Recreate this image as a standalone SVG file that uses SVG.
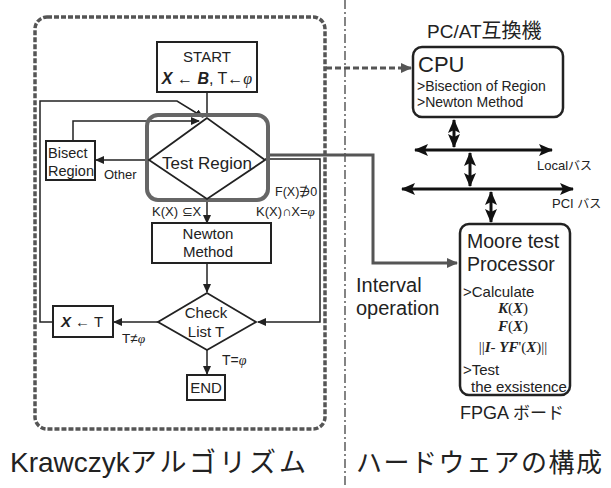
<svg xmlns="http://www.w3.org/2000/svg" width="611" height="488" viewBox="0 0 611 488">
<style>
text{font-family:"Liberation Sans",Arial,sans-serif;fill:#222}
.box{fill:#fff;stroke:#222;stroke-width:2}
.ln{fill:none;stroke:#222;stroke-width:1.5}
.bus{fill:none;stroke:#111;stroke-width:3}
.m{font-family:"Liberation Serif","Times New Roman",serif;font-weight:bold;font-style:italic}
.phi{font-family:"Liberation Serif","Times New Roman",serif;font-style:italic}
.jp{font-family:"Noto Sans CJK JP",sans-serif}
</style>
<defs>
<marker id="a" markerUnits="userSpaceOnUse" markerWidth="9" markerHeight="8" refX="8" refY="4" orient="auto"><path d="M0,0 L9,4 L0,8 z" fill="#222"/></marker>
<marker id="g" markerUnits="userSpaceOnUse" markerWidth="11" markerHeight="10" refX="10" refY="5" orient="auto"><path d="M0,0 L11,5 L0,10 z" fill="#555"/></marker>
<marker id="b" markerUnits="userSpaceOnUse" markerWidth="14" markerHeight="12" refX="13" refY="6" orient="auto-start-reverse"><path d="M0,0 L14,6 L0,12 L3,6 z" fill="#111"/></marker>
</defs>

<g id="divider"><line x1="345" y1="0" x2="345" y2="488" stroke="#333" stroke-width="1.2" stroke-dasharray="9 3 2 3"/></g>
<g id="algo-frame"><rect x="35" y="17" width="290" height="412" rx="12" fill="none" stroke="#555" stroke-width="3.5" stroke-dasharray="5 2"/></g>

<g id="connectors">
<path class="ln" d="M207,92 V116" />
<path class="ln" d="M53,322 H40 V101 H177 L203,117" marker-end="url(#a)"/>
<path class="ln" d="M73,141 V121 H199" marker-end="url(#a)"/>
<path class="ln" d="M149,160 H96" marker-end="url(#a)"/>
<path class="ln" d="M265,159 H320 V322 H258" marker-end="url(#a)"/>
<path class="ln" d="M207,199 V223" marker-end="url(#a)"/>
<path class="ln" d="M207,263 V292" marker-end="url(#a)"/>
<path class="ln" d="M158,322 H114" marker-end="url(#a)"/>
<path class="ln" d="M207,350 V374" marker-end="url(#a)"/>
<path d="M268,155 H373 V263 H457" fill="none" stroke="#555" stroke-width="3" marker-end="url(#g)"/>
<path d="M326,68 H411" fill="none" stroke="#555" stroke-width="3" stroke-dasharray="6 3" marker-end="url(#g)"/>
<path class="bus" d="M454,120 V147" marker-start="url(#b)" marker-end="url(#b)"/>
<path class="bus" d="M415,150 H552" marker-start="url(#b)" marker-end="url(#b)"/>
<path class="bus" d="M470,153 V186" marker-start="url(#b)" marker-end="url(#b)"/>
<path class="bus" d="M402,189 H573" marker-start="url(#b)" marker-end="url(#b)"/>
<path class="bus" d="M491,192 V222" marker-start="url(#b)" marker-end="url(#b)"/>
</g>

<g id="start">
<rect class="box" x="157" y="42" width="100" height="50"/>
<text x="207" y="62" font-size="15" text-anchor="middle">START</text>
<text x="207" y="84" font-size="16" text-anchor="middle"><tspan font-weight="bold" font-style="italic">X</tspan> ← <tspan font-weight="bold" font-style="italic">B</tspan>, T←<tspan class="phi">φ</tspan></text>
</g>

<g id="test-region">
<rect x="147" y="115" width="121" height="85" rx="11" fill="none" stroke="#666" stroke-width="4"/>
<polygon points="207,118 149,160 207,199 265,160" fill="none" stroke="#222" stroke-width="1.8"/>
<text x="207" y="169" font-size="17" text-anchor="middle">Test Region</text>
</g>

<g id="bisect">
<rect class="box" x="46" y="141" width="49" height="39"/>
<text x="48" y="158" font-size="14.5">Bisect</text>
<text x="48" y="176" font-size="14.5">Region</text>
</g>
<text x="104" y="179" font-size="13">Other</text>
<text x="275" y="196" font-size="12.5">F(X)∌0</text>
<text x="256" y="216" font-size="13">K(X)∩X=<tspan class="phi">φ</tspan></text>
<text x="152" y="216" font-size="13">K(X) ⊆X</text>

<g id="newton">
<rect class="box" x="152" y="223" width="119" height="40"/>
<text x="208" y="239" font-size="15" text-anchor="middle">Newton</text>
<text x="208" y="257" font-size="15" text-anchor="middle">Method</text>
</g>

<g id="check">
<polygon points="207,293 158,322 207,350 256,322" fill="#fff" stroke="#222" stroke-width="1.8"/>
<text x="206" y="318" font-size="15" text-anchor="middle">Check</text>
<text x="206" y="337" font-size="15" text-anchor="middle">List T</text>
</g>

<g id="xt">
<rect class="box" x="53" y="306" width="60" height="31"/>
<text x="82" y="327" font-size="15" text-anchor="middle"><tspan font-weight="bold" font-style="italic">X</tspan> ← T</text>
</g>
<text x="122" y="343" font-size="13.5">T≠<tspan class="phi">φ</tspan></text>
<text x="222" y="365" font-size="14">T=<tspan class="phi">φ</tspan></text>

<g id="end">
<rect class="box" x="187" y="375" width="38" height="25"/>
<text x="206" y="393" font-size="15" text-anchor="middle">END</text>
</g>

<text x="427" y="38" font-size="19">PC/AT<tspan class="jp" font-size="20">互換機</tspan></text>

<g id="cpu">
<rect x="413" y="47" width="150" height="70" rx="9" fill="#fff" stroke="#222" stroke-width="2.5"/>
<text x="418" y="72" font-size="22">CPU</text>
<text x="417" y="91" font-size="14">&gt;Bisection of Region</text>
<text x="417" y="107" font-size="14">&gt;Newton Method</text>
</g>

<text x="537" y="170" font-size="13">Local<tspan class="jp" font-size="12">バス</tspan></text>
<text x="552" y="208" font-size="13">PCI <tspan class="jp" font-size="12">バス</tspan></text>

<g id="moore">
<rect x="460" y="224" width="110" height="171" rx="9" fill="#fff" stroke="#222" stroke-width="2.5"/>
<text x="467" y="248" font-size="19.5">Moore test</text>
<text x="467" y="271" font-size="19.5">Processor</text>
<text x="463" y="297" font-size="15">&gt;Calculate</text>
<text x="513" y="313" font-size="15" text-anchor="middle"><tspan class="m">K</tspan><tspan font-family="Liberation Serif,serif">(</tspan><tspan class="m">X</tspan><tspan font-family="Liberation Serif,serif">)</tspan></text>
<text x="513" y="331" font-size="15" text-anchor="middle"><tspan class="m">F</tspan><tspan font-family="Liberation Serif,serif">(</tspan><tspan class="m">X</tspan><tspan font-family="Liberation Serif,serif">)</tspan></text>
<text x="513" y="352" font-size="15" text-anchor="middle"><tspan font-family="Liberation Serif,serif">||</tspan><tspan class="m">I</tspan><tspan font-family="Liberation Serif,serif">- </tspan><tspan class="m">YF</tspan><tspan font-family="Liberation Serif,serif">'(</tspan><tspan class="m">X</tspan><tspan font-family="Liberation Serif,serif">)||</tspan></text>
<text x="463" y="375" font-size="15">&gt;Test</text>
<text x="471" y="392" font-size="15">the exsistence</text>
</g>

<text x="356" y="292" font-size="20">Interval</text>
<text x="356" y="315" font-size="20">operation</text>
<text x="460" y="419" font-size="18">FPGA <tspan class="jp" font-size="17">ボード</tspan></text>

<text x="10" y="472" font-size="28">Krawczyk<tspan class="jp" font-size="27" letter-spacing="3">アルゴリズム</tspan></text>
<text x="356" y="472" font-size="26" letter-spacing="1.5" class="jp">ハードウェアの構成</text>
</svg>
